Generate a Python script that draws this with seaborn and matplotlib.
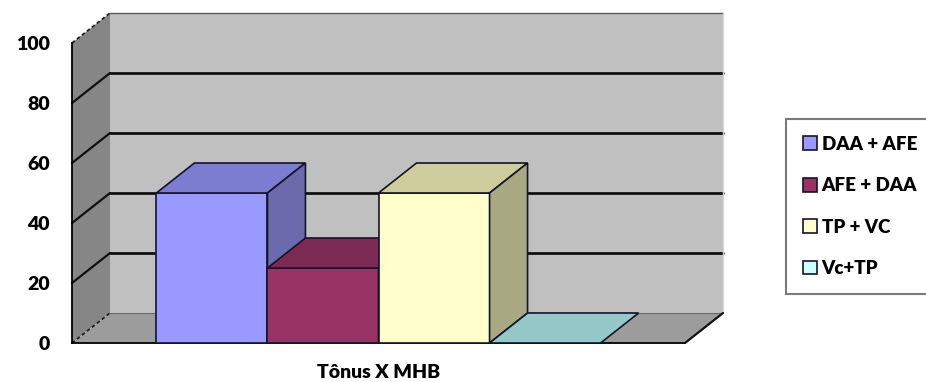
import matplotlib
matplotlib.use("Agg")
import matplotlib.pyplot as plt
from matplotlib.patches import Polygon, Patch, Rectangle
from matplotlib.lines import Line2D
import numpy as np
import pandas as pd
import seaborn as sns

# ---- data ----
categoria = ["Tônus X MHB"]
series = ["DAA + AFE", "AFE + DAA", "TP + VC", "Vc+TP"]
valores = [50, 25, 50, 0]
y_ticks = [0, 20, 40, 60, 80, 100]

# ---- styling ----
sns.set_style("white")
plt.rcParams["font.family"] = ["Lato", "DejaVu Sans"]
plt.rcParams["font.weight"] = "bold"

cor_frente = ["#9999ff", "#993366", "#ffffcc", "#ccffff"]
cor_topo = ["#7c7cd0", "#7b2a53", "#cccc9c", "#95c8c8"]
cor_lado = ["#6a6aac", "#6a2246", "#a8a882", "#86b0b0"]
cor_borda = "#141428"

PAREDE_FUNDO = "#c0c0c0"
PAREDE_LADO = "#868686"
PISO = "#9c9c9c"

# oblique depth of the 3-D box, in pixels
DX, DY = 38, 30

W, H = 926, 382
fig = plt.figure(figsize=(W / 100, H / 100), dpi=100)
ax = fig.add_axes([72 / W, 39 / H, 613 / W, 300 / H])
ax.patch.set_visible(False)

df = pd.DataFrame({
    "grupo": categoria * len(series),
    "serie": series,
    "valor": valores,
})

sns.barplot(data=df, x="grupo", y="valor", hue="serie", hue_order=series,
            palette=cor_frente, saturation=1, width=0.8,
            edgecolor=cor_borda, linewidth=1.2, legend=False, ax=ax)

# front faces of the bars, left to right
barras = sorted([p for p in ax.patches if isinstance(p, Rectangle)],
                key=lambda r: r.get_x())

ax.set_xlim(-0.552, 0.552)
ax.set_ylim(0, 100)
ax.set_xlabel("")
ax.set_ylabel("")

x0, x1 = ax.get_xlim()


def fundo(x, y):
    """Project a front-plane data point onto the back plane."""
    p = ax.transData.transform((x, y)) + np.array([DX, DY])
    return tuple(ax.transData.inverted().transform(p))


def poligono(pts, cor, z, lw=0, ec="none"):
    ax.add_patch(Polygon(pts, closed=True, facecolor=cor, edgecolor=ec,
                         linewidth=lw, zorder=z, clip_on=False))


def linha(p, q, z, **kw):
    ax.add_line(Line2D([p[0], q[0]], [p[1], q[1]], zorder=z,
                       clip_on=False, **kw))


# back wall, left wall and floor
poligono([fundo(x0, 0), fundo(x1, 0), fundo(x1, 100), fundo(x0, 100)],
         PAREDE_FUNDO, 0.5)
poligono([(x0, 0), fundo(x0, 0), fundo(x0, 100), (x0, 100)], PAREDE_LADO, 0.6)
poligono([(x0, 0), (x1, 0), fundo(x1, 0), fundo(x0, 0)], PISO, 0.6)

# grid lines on the back and left walls
for v in y_ticks:
    if 0 < v < 100:
        linha(fundo(x0, v), fundo(x1, v), 1.0, color="#111111", lw=2.0)
        linha((x0, v), fundo(x0, v), 1.0, color="#111111", lw=1.6)
    else:
        linha((x0, v), fundo(x0, v), 1.0, color="#222222", lw=1.3,
              ls=(0, (2, 1.5)))
linha(fundo(x0, 100), fundo(x1, 100), 1.0, color="#5a5a5a", lw=1.0)
linha(fundo(x0, 0), fundo(x1, 0), 1.0, color="#6a6a6a", lw=0.8)
linha(fundo(x1, 0), fundo(x1, 100), 1.0, color="#d8d8d8", lw=1.0)
linha((x1, 0), fundo(x1, 0), 1.0, color="#111111", lw=1.6)

# 3-D faces of each bar, painted left to right
for i, b in enumerate(barras):
    z = 3 + i
    b.set_zorder(z)
    bx, bw, bh = b.get_x(), b.get_width(), b.get_height()
    xe, xd = bx, bx + bw
    poligono([(xe, bh), (xd, bh), fundo(xd, bh), fundo(xe, bh)],
             cor_topo[i], z, lw=1.2, ec=cor_borda)
    if bh > 0:
        poligono([(xd, 0), fundo(xd, 0), fundo(xd, bh), (xd, bh)],
                 cor_lado[i], z, lw=1.2, ec=cor_borda)

# axes, ticks and labels
for s in ["top", "right"]:
    ax.spines[s].set_visible(False)
for s in ["left", "bottom"]:
    ax.spines[s].set_color("black")
    ax.spines[s].set_linewidth(1.3)
    ax.spines[s].set_zorder(2)

ax.set_yticks(y_ticks)
ax.tick_params(axis="y", direction="out", length=5, width=1.2,
               color="black", pad=11, labelsize=14)
ax.set_xticks([0])
ax.set_xticklabels(categoria)
ax.set_xticks([x0, x1], minor=True)
ax.tick_params(axis="x", which="major", length=0, pad=15, labelsize=14)
ax.tick_params(axis="x", which="minor", direction="out", length=5,
               width=1.2, color="black")
for t in ax.get_xticklabels() + ax.get_yticklabels():
    t.set_fontweight("heavy")
    t.set_color("black")

# legend (its frame runs past the right edge of the figure)
alcas = [Patch(facecolor=c, edgecolor=cor_borda, linewidth=1.2)
         for c in cor_frente]
leg = fig.legend(alcas, series, loc="upper left",
                 bbox_to_anchor=(786 / W, 1 - 119 / H, 160 / W, 0),
                 mode="expand",
                 frameon=True, fancybox=False, framealpha=1,
                 edgecolor="#7a7a7a",
                 prop={"family": ["Lato", "DejaVu Sans"], "weight": "heavy",
                       "size": 13.5},
                 handlelength=0.75, handleheight=0.75, handletextpad=0.25,
                 labelspacing=1.3, borderpad=0.9, borderaxespad=0)
leg.get_frame().set_linewidth(1.5)
for t in leg.get_texts():
    t.set_color("black")

fig.savefig("out.png", dpi=100)
